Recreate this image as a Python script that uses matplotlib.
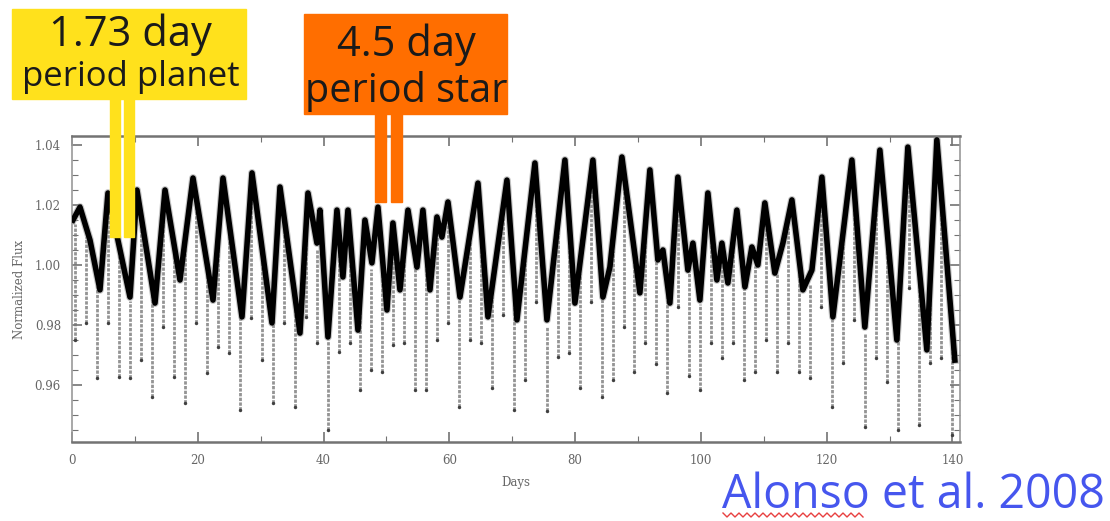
import numpy as np
import matplotlib
matplotlib.use('Agg')
import matplotlib.pyplot as plt
from matplotlib.patches import Rectangle
from matplotlib.lines import Line2D
from matplotlib.ticker import MultipleLocator

##################
# Data
##################

# stellar light curve: turning points (days, normalised flux)
curve_days = [0.16, 1.27, 2.86, 4.45, 5.72, 9.22, 10.33, 13.20, 14.79, 17.17,
              19.24, 22.42, 24.01, 27.03, 28.62, 31.80, 33.07, 36.25, 37.52, 38.95,
              39.43, 40.70, 42.13, 43.08, 43.88, 45.47, 46.58, 47.69, 48.65, 50.08,
              51.03, 52.15, 53.42, 54.85, 55.80, 56.92, 58.03, 58.82, 59.78, 61.69,
              64.55, 66.14, 69.16, 70.75, 73.61, 75.52, 78.38, 79.97, 82.83, 84.42,
              85.53, 87.44, 90.30, 91.89, 93.16, 93.96, 95.07, 96.34, 97.93, 98.73,
              99.84, 101.11, 102.54, 103.34, 104.29, 105.72, 107.00, 108.11, 109.06, 110.17,
              111.76, 113.04, 114.47, 116.22, 117.65, 119.24, 120.99, 124.01, 126.07, 128.46,
              131.16, 132.91, 135.93, 137.52, 140.38]
curve_flux = [1.0150, 1.0193, 1.0083, 0.9917, 1.0240, 0.9893, 1.0250, 0.9873, 1.0250, 0.9950,
              1.0290, 0.9883, 1.0290, 0.9827, 1.0307, 0.9807, 1.0260, 0.9773, 1.0240, 1.0073,
              1.0183, 0.9760, 1.0183, 0.9960, 1.0183, 0.9783, 1.0150, 1.0007, 1.0193, 0.9850,
              1.0140, 0.9917, 1.0183, 0.9993, 1.0183, 0.9917, 1.0160, 1.0093, 1.0210, 0.9893,
              1.0273, 0.9827, 1.0283, 0.9817, 1.0340, 0.9817, 1.0350, 0.9873, 1.0350, 0.9893,
              0.9993, 1.0360, 0.9907, 1.0317, 1.0017, 1.0050, 0.9873, 1.0293, 0.9983, 1.0073,
              0.9883, 1.0240, 0.9950, 1.0073, 0.9940, 1.0183, 0.9927, 1.0060, 1.0000, 1.0207,
              0.9973, 1.0073, 1.0217, 0.9917, 0.9983, 1.0293, 0.9827, 1.0350, 0.9793, 1.0383,
              0.9750, 1.0393, 0.9717, 1.0417, 0.9683]

# planet transits: mid-times (days) and lowest flux reached
transit_days = [0.55, 2.29, 4.04, 5.78, 7.52, 9.27, 11.01, 12.75, 14.49, 16.24,
                17.98, 19.72, 21.47, 23.21, 24.95, 26.70, 28.44, 30.18, 31.92, 33.67,
                35.41, 37.15, 38.90, 40.64, 42.38, 44.13, 45.87, 47.61, 49.35, 51.10,
                52.84, 54.58, 56.33, 58.07, 59.81, 61.56, 63.30, 65.04, 66.78, 68.53,
                70.27, 72.01, 73.76, 75.50, 77.24, 78.99, 80.73, 82.47, 84.21, 85.96,
                87.70, 89.44, 91.19, 92.93, 94.67, 96.42, 98.16, 99.90, 101.64, 103.39,
                105.13, 106.87, 108.62, 110.36, 112.10, 113.85, 115.59, 117.33, 119.07, 120.82,
                122.56, 124.30, 126.05, 127.79, 129.53, 131.28, 133.02, 134.76, 136.50, 138.25,
                139.99]
transit_bottom = [0.9750, 0.9807, 0.9623, 0.9807, 0.9627, 0.9623, 0.9683, 0.9560, 0.9793, 0.9627,
                  0.9540, 0.9807, 0.9640, 0.9727, 0.9707, 0.9517, 0.9823, 0.9683, 0.9540, 0.9807,
                  0.9527, 0.9827, 0.9740, 0.9450, 0.9710, 0.9740, 0.9583, 0.9650, 0.9643, 0.9733,
                  0.9740, 0.9583, 0.9583, 0.9750, 0.9807, 0.9527, 0.9750, 0.9740, 0.9590, 0.9833,
                  0.9517, 0.9617, 0.9877, 0.9513, 0.9693, 0.9707, 0.9590, 0.9877, 0.9560, 0.9617,
                  0.9793, 0.9643, 0.9740, 0.9670, 0.9573, 0.9860, 0.9630, 0.9583, 0.9740, 0.9690,
                  0.9740, 0.9617, 0.9643, 0.9750, 0.9643, 0.9740, 0.9643, 0.9623, 0.9860, 0.9527,
                  0.9673, 0.9817, 0.9460, 0.9690, 0.9610, 0.9450, 0.9923, 0.9467, 0.9673, 0.9690,
                  0.9433]

x_ticks = [0, 20, 40, 60, 80, 100, 120, 140]
y_ticks = [0.96, 0.98, 1.00, 1.02, 1.04]

#############################
# Figure
#############################

W, H = 1110, 521
fig = plt.figure(figsize=(W / 100, H / 100), dpi=100)

def fx(px):
    return px / W

def fy(py):
    return 1 - py / H

ax = fig.add_axes([fx(72), fy(442), fx(960) - fx(72), fy(136) - fy(442)])

# transits drawn first, grey streaks with a darker foot
tops = np.interp(transit_days, curve_days, curve_flux) - 0.003
ax.vlines(transit_days, transit_bottom, tops, colors='0.58', lw=2.0,
          linestyles=(0, (1.2, 0.5)), zorder=1)
ax.scatter(transit_days, transit_bottom, s=6, c='0.25', zorder=2, linewidths=0)

ax.plot(curve_days, curve_flux, color='0.55', lw=5.6, zorder=3,
        solid_joinstyle='round', alpha=0.5)
ax.plot(curve_days, curve_flux, color='black', lw=4.0, zorder=4,
        solid_joinstyle='round')

ax.set_xlim(0, 141.2)
ax.set_ylim(0.941, 1.043)
ax.set_xticks(x_ticks)
ax.set_yticks(y_ticks)
ax.set_xticklabels([str(v) for v in x_ticks])
ax.set_yticklabels(['%.2f' % v for v in y_ticks])
ax.xaxis.set_minor_locator(MultipleLocator(10))
ax.yaxis.set_minor_locator(MultipleLocator(0.005))
ax.tick_params(which='both', direction='in', top=True, right=True,
               colors='0.45', labelcolor='0.4', labelsize=8.5)
ax.tick_params(which='major', length=7, width=1.2)
ax.tick_params(which='minor', length=4, width=0.8)
for lab in ax.get_xticklabels() + ax.get_yticklabels():
    lab.set_family('DejaVu Serif')
for side in ['top', 'bottom']:
    ax.spines[side].set_color('0.45')
    ax.spines[side].set_linewidth(1.8)
for side in ['left', 'right']:
    ax.spines[side].set_color('0.6')
    ax.spines[side].set_linewidth(1.2)
ax.tick_params(axis='x', pad=9)
ax.tick_params(axis='y', pad=8)
ax.set_xlabel('Days', family='DejaVu Serif', fontsize=8.5, color='0.4', labelpad=6)
ax.set_ylabel('Normalized Flux', family='DejaVu Serif', fontsize=8.5, color='0.4',
              labelpad=6)

# annotation boxes and pointers
yellow = '#FFE11C'
orange = '#FF6E00'
fig.add_artist(Rectangle((fx(12), fy(99)), fx(246) - fx(12), fy(9) - fy(99),
                         transform=fig.transFigure, color=yellow, zorder=5))
for x0, x1 in [(110, 120), (124, 134)]:
    fig.add_artist(Rectangle((fx(x0), fy(237)), fx(x1) - fx(x0), fy(99) - fy(237),
                             transform=fig.transFigure, color=yellow, zorder=5))
fig.add_artist(Rectangle((fx(304), fy(114)), fx(507) - fx(304), fy(14) - fy(114),
                         transform=fig.transFigure, color=orange, zorder=5))
for x0, x1 in [(375, 386), (391, 402)]:
    fig.add_artist(Rectangle((fx(x0), fy(202)), fx(x1) - fx(x0), fy(114) - fy(202),
                             transform=fig.transFigure, color=orange, zorder=5))

fig.text(fx(130), fy(35), '1.73 day', ha='center', va='center', fontsize=30,
         family='Open Sans', color='#1a1a1a', zorder=6)
fig.text(fx(131), fy(77), 'period planet', ha='center', va='center', fontsize=25,
         family='Open Sans', color='#1a1a1a', zorder=6)
fig.text(fx(406), fy(45), '4.5 day', ha='center', va='center', fontsize=30,
         family='Open Sans', color='#1a1a1a', zorder=6)
fig.text(fx(406), fy(91), 'period star', ha='center', va='center', fontsize=28.5,
         family='Open Sans', color='#1a1a1a', zorder=6)

fig.text(fx(913), fy(495), 'Alonso et al. 2008', ha='center', va='center',
         fontsize=33.5, family='Open Sans', color='#4656EE')

# spell-check squiggle under the author name
sq_x = np.arange(723, 866, 4)
sq_y = np.where(np.arange(len(sq_x)) % 2 == 0, 513, 517)
fig.add_artist(Line2D(fx(sq_x), fy(sq_y), transform=fig.transFigure,
                      color='#E84040', lw=1.0))

fig.savefig('out.png', dpi=100)
